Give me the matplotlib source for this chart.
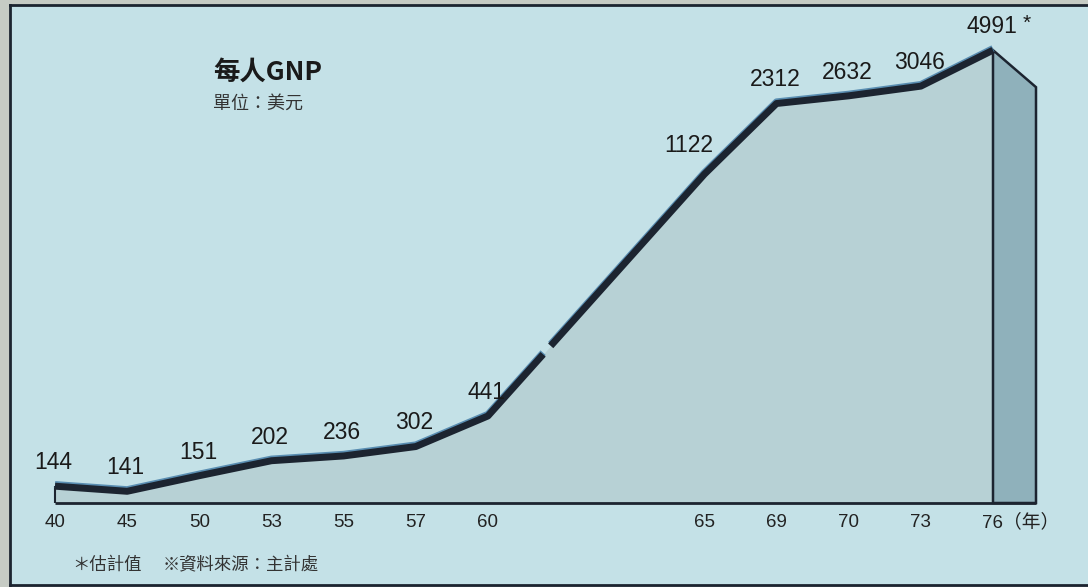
import numpy as np
import matplotlib.pyplot as plt
import matplotlib.patheffects as pe
from matplotlib.patches import Polygon

# data (per capita GNP, US$)
years = ['40', '45', '50', '53', '55', '57', '60', '65', '69', '70', '73', '76']
gnp = [144, 141, 151, 202, 236, 302, 441, 1122, 2312, 2632, 3046, 4991]
value_labels = ['144', '141', '151', '202', '236', '302', '441', '1122', '2312', '2632', '3046', '4991']

# the original uses a hand drawn, non linear value axis
axis_vals = [0, 100, 140, 150, 200, 300, 500, 1000, 2000, 3000, 5000, 8000]
axis_h = [-82, 0, 10, 27, 42, 56, 100, 320, 392, 416, 453, 509]


def forward(v):
    return np.interp(v, axis_vals, axis_h)


def inverse(h):
    return np.interp(h, axis_h, axis_vals)


BG = '#c4e1e7'
FILL = '#b7d1d5'
SIDE = '#8fb1bb'
DARK = '#1c2430'
NUM_FONT = ['Liberation Sans', 'DejaVu Sans']
CJK_FONT = ['Noto Sans CJK TC', 'DejaVu Sans']

idx = np.arange(len(years))
x = idx + 2 * (idx >= 7)  # gap after year 60
base = 100

fig = plt.figure(figsize=(10.88, 5.87), dpi=100, facecolor='#c6cbc4')
ax = fig.add_axes([10 / 1088, 2 / 587, 1078 / 1088, 580 / 587])
ax.set_facecolor(BG)
ax.set_yscale('function', functions=(forward, inverse))
slot = (993 - 55) / 13
ax.set_xlim(-45 / slot, 13 + 95 / slot)
ax.set_ylim(0, inverse(498))

# area under the line
ax.fill_between(x, gnp, base, color=FILL, lw=0)

# 3d side face at the right end
depth = 43 / slot
h_top = forward(gnp[-1])
face = Polygon([(x[-1], base), (x[-1], gnp[-1]), (x[-1] + depth, inverse(h_top - 37)),
                (x[-1] + depth, base)], closed=True, facecolor=SIDE, edgecolor=DARK, lw=1.8)
ax.add_patch(face)

ax.hlines(base, x[0], x[-1] + depth, color=DARK, lw=2)
ax.vlines(x[0], base, gnp[0], color=DARK, lw=1.5)

# line with a small break between 60 and 65
h6, h7 = forward(gnp[6]), forward(gnp[7])
t0, t1 = 0.255, 0.29
lx = list(x[:7]) + [x[6] + t0 * (x[7] - x[6])]
ly = list(gnp[:7]) + [inverse(h6 + t0 * (h7 - h6))]
ux = [x[6] + t1 * (x[7] - x[6])] + list(x[7:])
uy = [inverse(h6 + t1 * (h7 - h6))] + list(gnp[7:])
effects = [pe.SimpleLineShadow(offset=(0, 1.2), shadow_color='#4d84ac', alpha=0.9), pe.Normal()]
for xs, ys in [(lx, ly), (ux, uy)]:
    ax.plot(xs, ys, color=DARK, lw=5, solid_joinstyle='round', solid_capstyle='butt',
            path_effects=effects, zorder=3)

# value labels
for i, lab in enumerate(value_labels):
    dx, dy = (-11, 21) if i == 7 else (-1, 17)
    ax.annotate(lab, (x[i], gnp[i]), xytext=(dx, dy), textcoords='offset points',
                ha='center', va='center', fontsize=16.5, family=NUM_FONT, color='#1a1a1a')
ax.annotate('*', (x[-1], gnp[-1]), xytext=(24, 19), textcoords='offset points',
            ha='center', va='center', fontsize=15, family=NUM_FONT, color='#1a1a1a')

# year labels
for i, yr in enumerate(years[:-1]):
    ax.annotate(yr, (x[i], base), xytext=(0, -14), textcoords='offset points',
                ha='center', va='center', fontsize=13.5, family=NUM_FONT, color='#222222')
ax.annotate(years[-1] + '（年）', (x[-1], base), xytext=(-8, -14), textcoords='offset points',
            ha='left', va='center', fontsize=13.5, family=['Liberation Sans', 'Noto Sans CJK TC'],
            color='#222222')

ax.set_xticks([])
ax.set_yticks([])
ax.tick_params(which='both', length=0, labelleft=False, labelbottom=False)
ax.yaxis.set_minor_locator(plt.NullLocator())
for side in ['left', 'top', 'bottom']:
    ax.spines[side].set_color(DARK)
    ax.spines[side].set_linewidth(2)
ax.spines['right'].set_visible(False)

fig.text(213 / 1088, 1 - 72 / 587, '每人GNP', ha='left', va='center', fontsize=19,
         fontweight='bold', family=CJK_FONT, color='#1a1a1a')
fig.text(213 / 1088, 1 - 104 / 587, '單位：美元', ha='left', va='center', fontsize=13,
         family=CJK_FONT, color='#333333')
fig.text(72 / 1088, 1 - 565 / 587, '＊估計值', ha='left', va='center', fontsize=12.5,
         family=CJK_FONT, color='#333333')
fig.text(163 / 1088, 1 - 565 / 587, '※資料來源：主計處', ha='left', va='center', fontsize=12.5,
         family=CJK_FONT, color='#333333')

fig.savefig('out.png', dpi=100, facecolor=fig.get_facecolor())
